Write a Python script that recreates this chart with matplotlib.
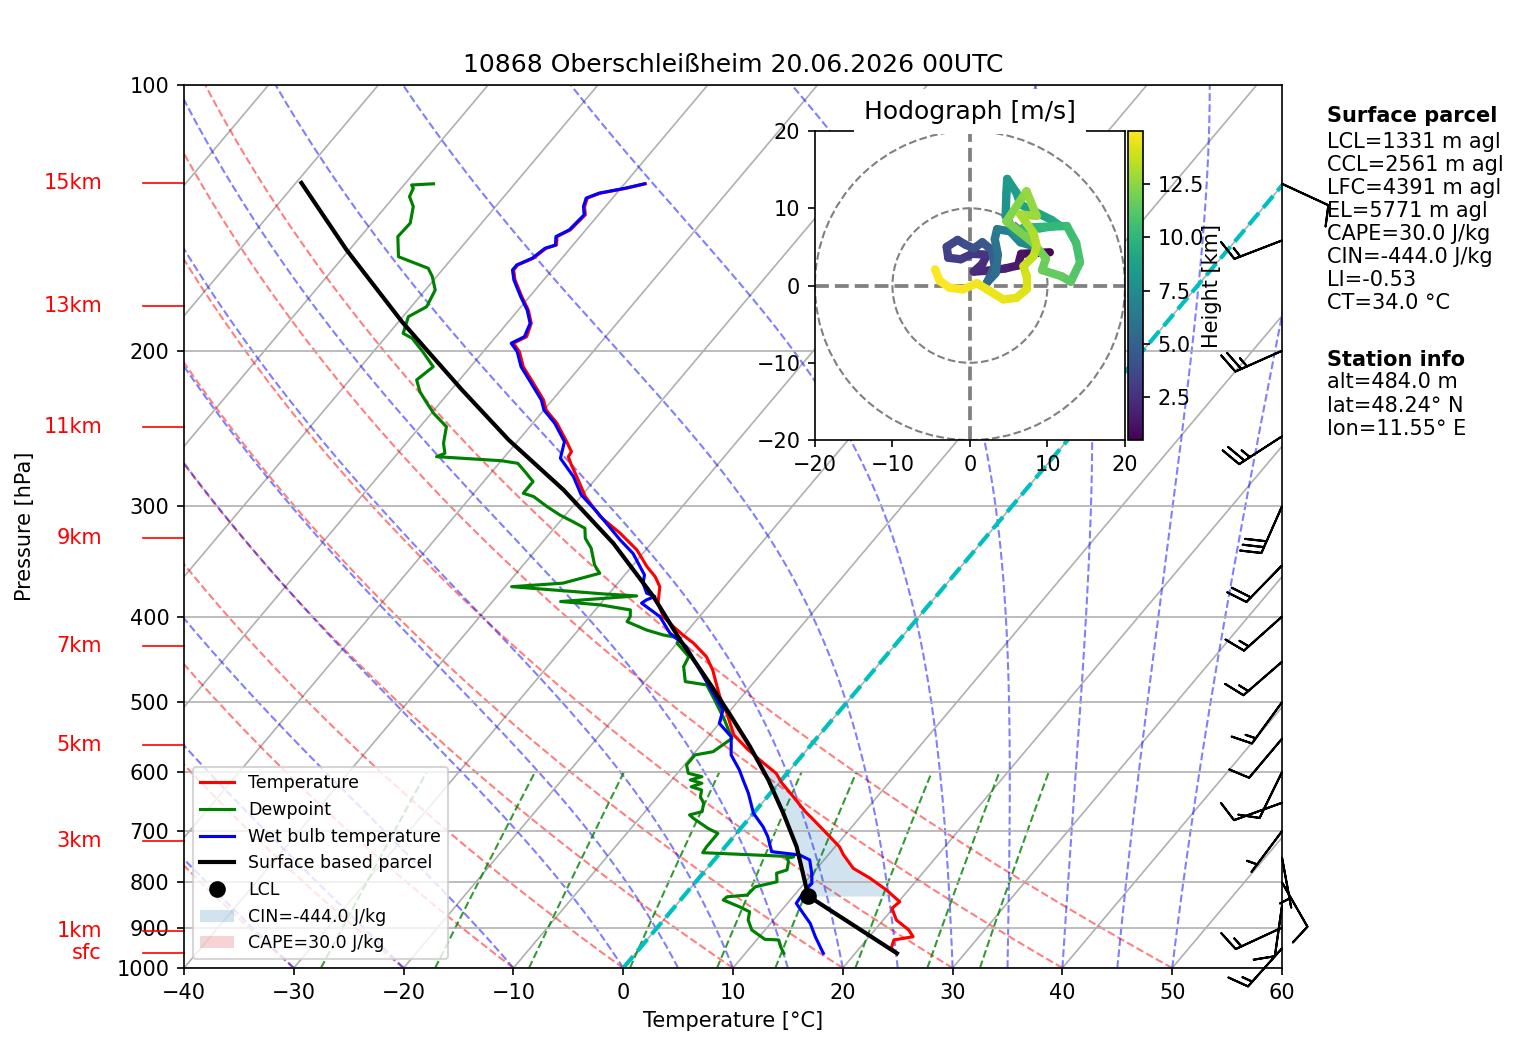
import numpy as np
import matplotlib
matplotlib.use("Agg")
import matplotlib.pyplot as plt
from matplotlib.collections import LineCollection
from matplotlib.patches import Circle
from matplotlib.ticker import FixedLocator, NullLocator, FormatStrFormatter

# ---- sounding data ----
temp_p = [962.4, 949.9, 929.5, 921.7, 905.7, 882.4, 855.9, 841.3, 816.0, 791.3,
          771.0, 744.7, 729.0, 703.9, 679.8, 665.2, 636.9, 617.7, 601.9, 581.4,
          563.9, 544.6, 514.5, 492.9, 471.8, 459.7, 444.0, 428.7, 419.6, 408.8,
          400.0, 386.2, 370.0, 360.4, 351.2, 336.2, 321.9, 308.2, 292.5, 277.7,
          269.3, 263.6, 260.2, 253.5, 241.6, 233.4, 227.4, 217.7, 208.5, 200.5,
          196.1, 192.8, 186.2, 179.8, 173.7, 166.3, 162.0, 159.9, 157.1, 153.1,
          151.8, 148.5, 145.9, 140.3, 137.3, 134.3, 132.6, 130.9, 129.4]
temp_t = [23.8, 22.9, 22.5, 24.0, 23.1, 21.2, 19.9, 20.1, 18.0, 15.6,
          13.3, 11.4, 10.4, 8.2, 6.0, 4.6, 2.1, 0.3, -1.0, -3.5,
          -5.6, -7.8, -10.1, -12.0, -13.7, -14.7, -16.3, -18.5, -20.1, -21.9,
          -23.3, -24.8, -25.9, -27.1, -28.6, -30.8, -33.6, -36.7, -39.6, -41.9,
          -43.3, -44.2, -44.3, -45.5, -47.8, -49.8, -50.8, -53.0, -55.2, -56.7,
          -57.9, -57.2, -57.8, -59.1, -60.7, -62.6, -63.5, -63.5, -62.6, -62.2,
          -61.5, -62.1, -61.4, -61.2, -61.9, -62.3, -61.5, -59.5, -58.1]

dew_p = [962.4, 946.0, 929.5, 927.9, 905.7, 882.4, 863.7, 852.5, 837.6, 830.5,
         826.8, 809.2, 798.7, 781.0, 774.4, 757.8, 751.2, 748.1, 740.3, 729.0,
         703.9, 694.7, 676.7, 670.8, 665.2, 650.9, 639.8, 628.7, 623.4, 617.7,
         612.4, 607.2, 601.9, 588.9, 573.8, 568.9, 549.5, 523.6, 497.3, 478.0,
         473.9, 455.8, 444.0, 428.7, 423.1, 419.6, 414.2, 405.3, 400.0, 393.1,
         388.0, 384.6, 379.0, 377.0, 370.0, 366.6, 357.3, 349.7, 334.7, 326.1,
         317.7, 312.3, 306.9, 300.3, 292.5, 290.0, 281.3, 274.1, 268.2, 266.4,
         263.6, 261.3, 254.5, 243.8, 235.4, 227.4, 222.5, 215.8, 208.5, 200.5,
         193.6, 191.1, 183.0, 178.3, 170.7, 164.8, 161.3, 156.5, 148.5, 143.4,
         137.3, 133.8, 130.9, 129.8, 129.4]
dew_t = [13.5, 12.7, 12.0, 10.7, 8.8, 7.7, 7.2, 5.9, 3.9, 4.0,
         5.7, 5.8, 7.4, 6.7, 7.4, 6.9, 6.5, 7.0, -1.6, -1.7,
         -1.7, -3.0, -5.1, -5.7, -4.8, -5.3, -6.1, -6.5, -7.7, -7.0,
         -8.3, -7.5, -9.0, -9.8, -9.8, -8.4, -7.7, -9.8, -12.2, -14.1,
         -16.3, -17.6, -17.9, -20.0, -20.1, -21.9, -23.8, -26.2, -26.3, -26.8,
         -29.9, -33.8, -27.3, -30.5, -39.4, -35.0, -32.4, -33.5, -35.1, -36.4,
         -37.2, -38.8, -40.5, -42.3, -44.3, -45.5, -45.5, -47.0, -48.3, -50.0,
         -56.2, -55.7, -56.6, -57.6, -59.8, -61.6, -62.7, -63.9, -63.4, -65.5,
         -67.5, -68.7, -69.5, -68.6, -69.1, -70.4, -71.4, -75.0, -76.6, -76.5,
         -77.5, -78.6, -78.9, -79.3, -77.4]

wb_p = [962.4, 946.0, 921.7, 890.0, 867.2, 844.8, 816.0, 802.0, 781.0, 754.5,
        744.7, 738.4, 710.0, 691.8, 668.0, 634.0, 612.4, 596.7, 573.8, 547.1,
        528.4, 510.2, 471.8, 432.5, 417.8, 400.0, 386.2, 382.9, 379.6, 376.3,
        366.6, 358.8, 339.2, 327.5, 304.2, 291.2, 277.7, 264.7, 253.5, 241.6,
        233.4, 227.4, 217.7, 208.5, 200.5, 196.1, 192.8, 186.2, 179.8, 173.7,
        166.3, 162.0, 159.9, 157.1, 153.1, 151.8, 148.5, 145.9, 140.3, 137.3,
        134.3, 132.6, 130.9, 129.4]
wb_t = [17.1, 16.3, 15.1, 13.6, 12.2, 10.8, 10.6, 10.7, 9.9, 8.7,
        7.4, 4.6, 3.1, 1.9, 0.0, -2.0, -3.5, -4.6, -6.5, -7.9,
        -10.0, -10.7, -14.6, -18.9, -21.4, -23.6, -26.3, -26.1, -25.6, -26.6,
        -27.7, -28.2, -30.9, -33.1, -37.4, -40.1, -42.2, -44.8, -45.7, -48.0,
        -50.0, -51.0, -53.2, -55.4, -56.9, -58.1, -57.4, -57.9, -59.2, -60.8,
        -62.7, -63.6, -63.6, -62.7, -62.3, -61.6, -62.2, -61.5, -61.3, -62.0,
        -62.4, -61.6, -59.6, -58.2]

parcel_p = [962.4, 894.0, 829.0, 729.0, 668.0, 612.4, 561.5, 549.5, 514.5, 505.8,
            480.1, 425.0, 379.6, 330.4, 287.4, 252.4, 221.5, 200.5, 185.4, 153.8,
            129.1]
parcel_t = [23.8, 17.65, 11.34, 6.5, 2.72, -1.2, -5.42, -6.52, -9.9, -10.8,
            -13.5, -19.98, -25.73, -33.46, -42.1, -50.9, -59.0, -65.0, -69.7, -80.23,
            -89.5]

lcl_p, lcl_t = 829.0, 11.34
lfc_p, el_p = 575.0, 490.0
cin_value, cape_value = -444.0, 30.0

height_labels = ["sfc", "1km", "3km", "5km", "7km", "9km", "11km", "13km", "15km"]
height_p = [962.4, 908.0, 718.3, 559.1, 431.7, 325.9, 243.9, 178.0, 129.1]

# wind barbs (knots)
barb_p = [950, 900, 850, 800, 750, 700, 650, 600, 550, 500, 450, 400, 350, 300,
          250, 200, 150, 129.4]
barb_u = [10.0, 13.6, 1.4, -5.0, -0.9, 3.0, 9.4, 4.4, 6.4, 8.8, 11.3, 11.2, 13.9,
          12.1, 21.0, 22.9, 14.0, -9.1]
barb_v = [11.2, 6.3, 9.9, 8.7, 4.9, 4.0, 3.4, 9.0, 7.6, 12.1, 9.8, 10.0, 14.3,
          27.4, 13.6, 10.2, 5.4, 4.2]

# hodograph (m/s, km)
hodo_h = [0.48, 0.8, 1.1, 1.4, 1.7, 2.0, 2.2, 2.4, 2.6, 2.8, 3.0, 3.2, 3.4, 3.6,
          3.8, 4.0, 4.3, 4.6, 4.9, 5.2, 5.5, 5.8, 6.1, 6.4, 6.7, 7.0, 7.3, 7.6,
          7.9, 8.1, 8.3, 8.5, 8.7, 8.9, 9.1, 9.3, 9.6, 9.8, 10.0, 10.3, 10.6,
          10.9, 11.2, 11.4, 11.6, 11.8, 12.0, 12.2, 12.4, 12.6, 12.8, 13.0, 13.2,
          13.4, 13.6, 13.8, 14.0, 14.2, 14.35, 14.5, 14.6, 14.7, 14.8, 14.9,
          14.95, 15.0]
hodo_u = [10.3, 8.3, 6.6, 6.2, 4.5, 2.0, 0.5, 1.6, 2.2, 0.3, -1.2, -2.8, -3.0,
          -1.6, -0.6, 0.5, 1.6, 2.8, 3.2, 2.2, 3.3, 3.6, 3.2, 3.5, 5.2, 6.5, 8.5,
          6.0, 4.6, 4.7, 4.8, 6.0, 6.5, 8.5, 10.5, 11.5, 9.0, 6.9, 9.5, 12.5,
          13.7, 14.2, 13.0, 11.8, 9.3, 9.8, 8.2, 4.7, 6.9, 7.3, 8.6, 6.5, 8.2,
          8.6, 8.2, 6.9, 7.3, 7.3, 6.0, 4.3, 2.2, 0.9, -0.9, -2.6, -3.9, -4.5]
hodo_v = [4.3, 4.2, 4.1, 2.6, 2.2, 1.9, 1.8, 2.8, 4.0, 4.1, 3.4, 3.6, 5.0, 5.9,
          5.3, 4.8, 5.6, 4.6, 2.5, 0.4, 1.6, 4.0, 6.0, 7.3, 7.0, 5.6, 5.0, 6.5,
          9.0, 12.0, 13.8, 12.0, 10.5, 9.5, 8.5, 7.8, 7.4, 7.5, 7.6, 7.7, 5.5,
          3.0, 0.5, 1.2, 2.0, 3.5, 5.5, 8.3, 11.6, 12.2, 9.0, 9.2, 6.8, 5.1, 3.8,
          2.5, 1.2, -0.5, -1.6, -1.8, -0.5, 0.3, -0.5, -0.3, 0.6, 2.1]

parcel_info = ["LCL=1331 m agl", "CCL=2561 m agl", "LFC=4391 m agl", "EL=5771 m agl",
               "CAPE=30.0 J/kg", "CIN=-444.0 J/kg", "LI=-0.53", "CT=34.0 °C"]
station_info = ["alt=484.0 m", "lat=48.24° N", "lon=11.55° E"]

SKEW = 67.7  # degC per decade of pressure


def skew_x(t, p):
    return np.asarray(t, dtype=float) + SKEW * np.log10(1000.0 / np.asarray(p, dtype=float))


def moist_adiabat(t0, pres):
    def dtdp(p, t):
        tc = t - 273.15
        es = 6.112 * np.exp(17.67 * tc / (tc + 243.5))
        rs = 0.622 * es / (p - es)
        frac = (287.04 * t + 2.501e6 * rs) / (1004.67 + 2.501e6 ** 2 * rs * 0.622 / (287.04 * t * t))
        return frac / p
    t = t0 + 273.15
    out = [t]
    for p0, p1 in zip(pres[:-1], pres[1:]):
        h = p1 - p0
        k1 = dtdp(p0, t)
        k2 = dtdp(p0 + h / 2, t + h / 2 * k1)
        k3 = dtdp(p0 + h / 2, t + h / 2 * k2)
        k4 = dtdp(p1, t + h * k3)
        t = t + h / 6 * (k1 + 2 * k2 + 2 * k3 + k4)
        out.append(t)
    return np.array(out) - 273.15


fig = plt.figure(figsize=(1517 / 150, 1054 / 150), dpi=150)
ax = fig.add_axes([0.1213, 0.0816, 0.7238, 0.8378])
ax.set_yscale("log")
ax.set_ylim(1000, 100)
ax.set_xlim(-40, 60)
ax.set_xticks(np.arange(-40, 61, 10))
ax.yaxis.set_major_locator(FixedLocator(np.arange(100, 1001, 100)))
ax.yaxis.set_major_formatter(FormatStrFormatter("%d"))
ax.yaxis.set_minor_locator(NullLocator())
ax.yaxis.grid(True, color="#b0b0b0", lw=0.8)

# background lines
p_bg = np.linspace(1000, 100, 181)
for t0 in range(-100, 61, 10):
    ax.plot(skew_x(np.full_like(p_bg, t0), p_bg), p_bg, color="#b0b0b0", lw=0.8, zorder=1)
for t0 in range(-40, 51, 10):
    t = (t0 + 273.15) * (p_bg / 1000.0) ** 0.2857 - 273.15
    ax.plot(skew_x(t, p_bg), p_bg, color="r", ls="--", lw=1, alpha=0.5, zorder=1)
for t0 in [-40, -30, -20, -10] + list(range(0, 51, 5)):
    t = moist_adiabat(t0, p_bg)
    ax.plot(skew_x(t, p_bg), p_bg, color="b", ls="--", lw=1, alpha=0.5, zorder=1)
p_mix = np.linspace(1000, 600, 41)
for w in [0.0004, 0.001, 0.002, 0.004, 0.007, 0.01, 0.016, 0.024, 0.032]:
    e = p_mix * w / (0.622 + w)
    lne = np.log(e / 6.112)
    td = 243.5 * lne / (17.67 - lne)
    ax.plot(skew_x(td, p_mix), p_mix, color="g", ls="--", lw=1, alpha=0.8, zorder=1)

ax.plot(skew_x(np.zeros_like(p_bg), p_bg), p_bg, color="c", ls="--", lw=2, zorder=2)

# shading between parcel and environment
p_fill = np.geomspace(lcl_p, 450, 300)
env_f = np.interp(np.log(p_fill), np.log(temp_p[::-1]), temp_t[::-1])
par_f = np.interp(np.log(p_fill), np.log(parcel_p[::-1]), parcel_t[::-1])
cin = ax.fill_betweenx(p_fill, skew_x(par_f, p_fill), skew_x(env_f, p_fill),
                       where=(par_f <= env_f) & (p_fill >= lfc_p), interpolate=True,
                       color="tab:blue", alpha=0.2, lw=0, label=f"CIN={cin_value:.1f} J/kg")
cape = ax.fill_betweenx(p_fill, skew_x(par_f, p_fill), skew_x(env_f, p_fill),
                        where=(par_f > env_f) & (p_fill >= el_p), interpolate=True,
                        color="tab:red", alpha=0.2, lw=0, label=f"CAPE={cape_value:.1f} J/kg")

l1, = ax.plot(skew_x(temp_t, temp_p), temp_p, color="r", lw=1.5, label="Temperature", zorder=4)
l2, = ax.plot(skew_x(dew_t, dew_p), dew_p, color="g", lw=1.5, label="Dewpoint", zorder=4)
l3, = ax.plot(skew_x(wb_t, wb_p), wb_p, color="b", lw=1.5, label="Wet bulb temperature", zorder=4)
l4, = ax.plot(skew_x(parcel_t, parcel_p), parcel_p, color="k", lw=2, label="Surface based parcel", zorder=5)
l5, = ax.plot(skew_x(lcl_t, lcl_p), lcl_p, "ko", ms=7, label="LCL", zorder=6)

ax.legend(handles=[l1, l2, l3, l4, l5, cin, cape], loc="lower left", fontsize="small")

ax.barbs(np.ones(len(barb_p)), barb_p, barb_u, barb_v, transform=ax.get_yaxis_transform(),
         clip_on=False, zorder=6)

trans = ax.get_yaxis_transform()
for lab, p in zip(height_labels, height_p):
    ax.plot([-0.0373, 0], [p, p], color="red", lw=0.8, transform=trans, clip_on=False)
    ax.text(-0.0747, p, lab, color="red", ha="right", va="center", transform=trans)

ax.set_title("10868 Oberschleißheim 20.06.2026 00UTC", fontsize=12)
ax.set_xlabel("Temperature [°C]")
ax.set_ylabel("Pressure [hPa]")
ax.yaxis.set_label_coords(-0.1357, 0.5)

# hodograph inset
hod = fig.add_axes([0.5372, 0.5825, 0.2044, 0.2932])
hod.set_xlim(-20, 20)
hod.set_ylim(-20, 20)
for r in (10, 20):
    hod.add_patch(Circle((0, 0), r, fill=False, color="grey", ls="--", lw=1))
hod.axhline(0, color="grey", ls="--", lw=1.8)
hod.axvline(0, color="grey", ls="--", lw=1.8)
pts = np.column_stack([hodo_u, hodo_v]).reshape(-1, 1, 2)
segs = np.concatenate([pts[:-1], pts[1:]], axis=1)
hh = np.array(hodo_h)
lc = LineCollection(segs, cmap="viridis", norm=plt.Normalize(hh.min(), hh.max()),
                    linewidth=4, capstyle="round")
lc.set_array(0.5 * (hh[:-1] + hh[1:]))
hod.add_collection(lc)
hod.set_xticks([-20, -10, 0, 10, 20])
hod.set_yticks([-20, -10, 0, 10, 20])
hod.set_title("Hodograph [m/s]", fontsize=12,
              bbox=dict(facecolor="white", edgecolor="none", pad=5))
cax = fig.add_axes([0.7436, 0.5825, 0.0099, 0.2932])
cb = fig.colorbar(lc, cax=cax)
cb.set_ticks([2.5, 5.0, 7.5, 10.0, 12.5])
cb.set_label("Height [km]", labelpad=-1)

# info text
x_txt = 1327 / 1517
fig.text(x_txt, 1 - 121.7 / 1054, "Surface parcel", fontweight="bold", va="baseline")
for i, line in enumerate(parcel_info):
    fig.text(x_txt, 1 - (148.3 + 22.9 * i) / 1054, line, va="baseline")
fig.text(x_txt, 1 - 365.7 / 1054, "Station info", fontweight="bold", va="baseline")
for i, line in enumerate(station_info):
    fig.text(x_txt, 1 - (388.5 + 23.2 * i) / 1054, line, va="baseline")

fig.savefig("out.png", dpi=150)
